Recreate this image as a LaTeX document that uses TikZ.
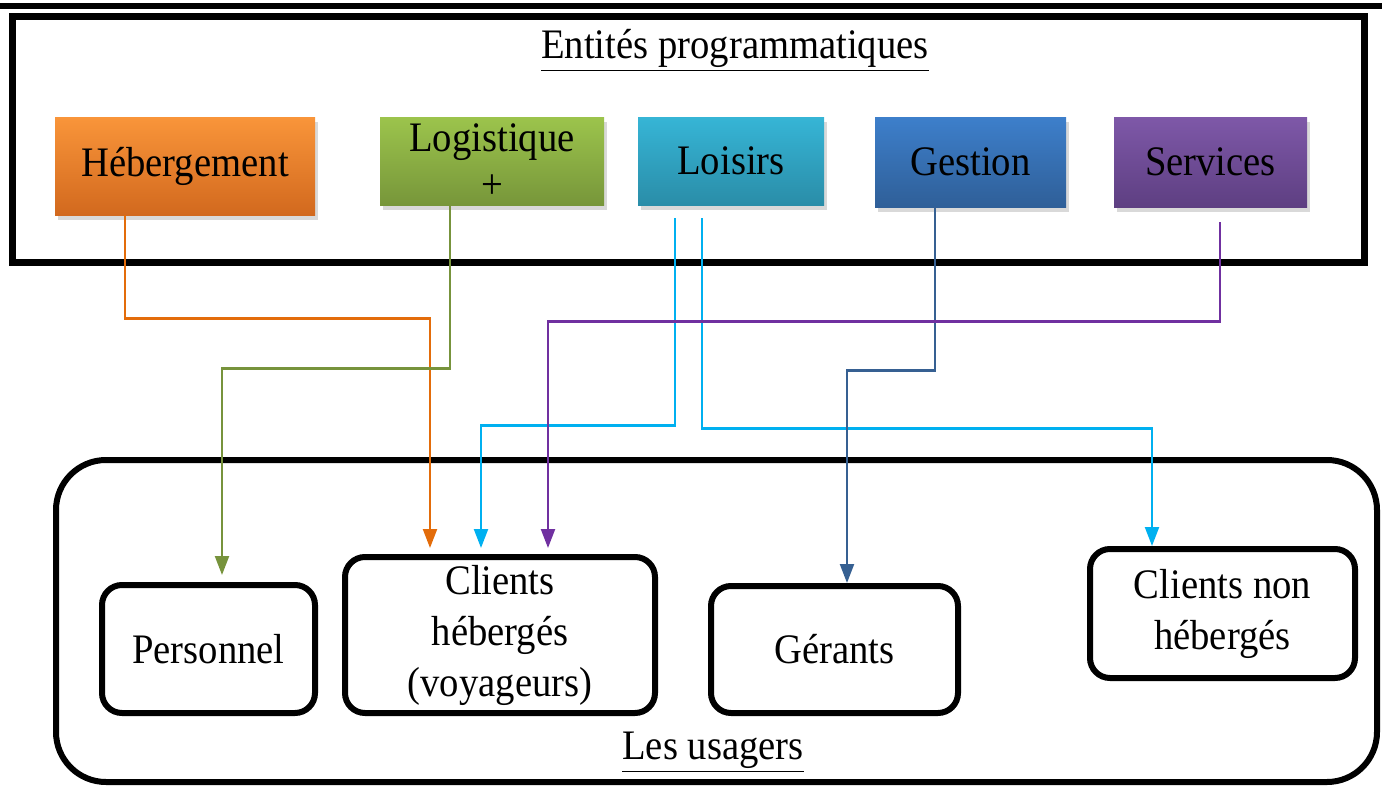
\documentclass[tikz,border=0pt]{standalone}
\usepackage{fontspec}
\setmainfont{Liberation Serif}[FakeStretch=0.92]
\usepackage{tikz}
\usetikzlibrary{arrows.meta,positioning,calc,fit,shadows}
\definecolor{hebtop}{HTML}{F9953A}
\definecolor{hebbot}{HTML}{D2691E}
\definecolor{logtop}{HTML}{9CC44C}
\definecolor{logbot}{HTML}{77963A}
\definecolor{loitop}{HTML}{36B5D6}
\definecolor{loibot}{HTML}{2A8DA8}
\definecolor{gestop}{HTML}{3D7FCB}
\definecolor{gesbot}{HTML}{2F5F98}
\definecolor{sertop}{HTML}{7E58A8}
\definecolor{serbot}{HTML}{5E3F82}
\definecolor{arrorange}{HTML}{E36C0A}
\definecolor{arrgreen}{HTML}{77933C}
\definecolor{arrcyan}{HTML}{00B0F0}
\definecolor{arrblue}{HTML}{366092}
\definecolor{arrpurple}{HTML}{7030A0}

\begin{document}
\begin{tikzpicture}[x=0.5pt,y=-0.5pt,>={Triangle[width=7pt,length=9.5pt]},
  txt/.style={font=\fontsize{21}{25.5}\selectfont,align=center},
  entite/.style={txt,inner sep=0pt,drop shadow={opacity=0.3,shadow xshift=1.5pt,shadow yshift=-2.5pt}},
  usager/.style={txt,draw,line width=3pt,rounded corners=10pt,inner sep=0pt,outer sep=0pt},
  cadre/.style={draw,line width=3.5pt,inner sep=0pt,outer sep=0pt},
  link/.style={->,line width=1.1pt}]
  \useasboundingbox (0,0) rectangle (1382,787);
  \draw[line width=3pt] (0,6) -- (1382,6);
  \node[cadre,fit={(12,16) (1364,262)}] (entites) {};
  \node[txt] (titre) at (735,50) {\underline{Entités programmatiques}};
  \node[cadre,line width=3pt,rounded corners=25pt,fit={(56,460) (1377,782)}] (usagers) {};
  \node[txt] (titreusagers) at (713,752) {\underline{Les usagers}};

  \node[entite,top color=hebtop,bottom color=hebbot,minimum width=130pt,minimum height=49pt] (heb) at (185,166) {Hébergement};
  \node[entite,top color=logtop,bottom color=logbot,minimum width=112pt,minimum height=44pt] (log) at (492,161) {Logistique\\[-2pt]+};
  \node[entite,top color=loitop,bottom color=loibot,minimum width=93pt,minimum height=44pt] (loi) at (731,161) {Loisirs};
  \node[entite,top color=gestop,bottom color=gesbot,minimum width=95.5pt,minimum height=45pt] (ges) at (970.5,162) {Gestion};
  \node[entite,top color=sertop,bottom color=serbot,minimum width=96.5pt,minimum height=45pt] (ser) at (1210.5,162) {Services};

  \node[usager,minimum width=106.5pt,minimum height=64pt] (per) at (208.5,649) {Personnel};
  \node[usager,minimum width=155pt,minimum height=78pt] (cli) at (500,635) {Clients\\hébergés\\(voyageurs)};
  \node[usager,minimum width=123.5pt,minimum height=63.5pt] (ger) at (834.5,649.5) {Gérants};
  \node[usager,minimum width=132.5pt,minimum height=64.5pt] (cnh) at (1222.5,613.5) {Clients non\\hébergés};

  \draw[link,arrorange] ($(heb.south)+(-60,0)$) -- ++(0,103) -| ($(cli.north)+(-70,-9)$);
  \draw[link,arrgreen] ($(log.south)+(-42,0)$) -- ++(0,163) -| ($(per.north)+(13.5,-10)$);
  \draw[link,arrcyan] ($(loi.south)+(-56,13)$) -- ++(0,207) -| ($(cli.north)+(-19,-9)$);
  \draw[link,arrcyan] ($(loi.south)+(-29,13)$) -- ++(0,210) -| ($(cnh.north)+(-70.5,-3)$);
  \draw[link,arrblue] ($(ges.south)+(-35.5,0)$) -- ++(0,163) -| ($(ger.north)+(12.5,-3)$);
  \draw[link,arrpurple] ($(ser.south)+(9.5,15)$) -- ++(0,99) -| ($(cli.north)+(48,-9)$);
\end{tikzpicture}
\end{document}
